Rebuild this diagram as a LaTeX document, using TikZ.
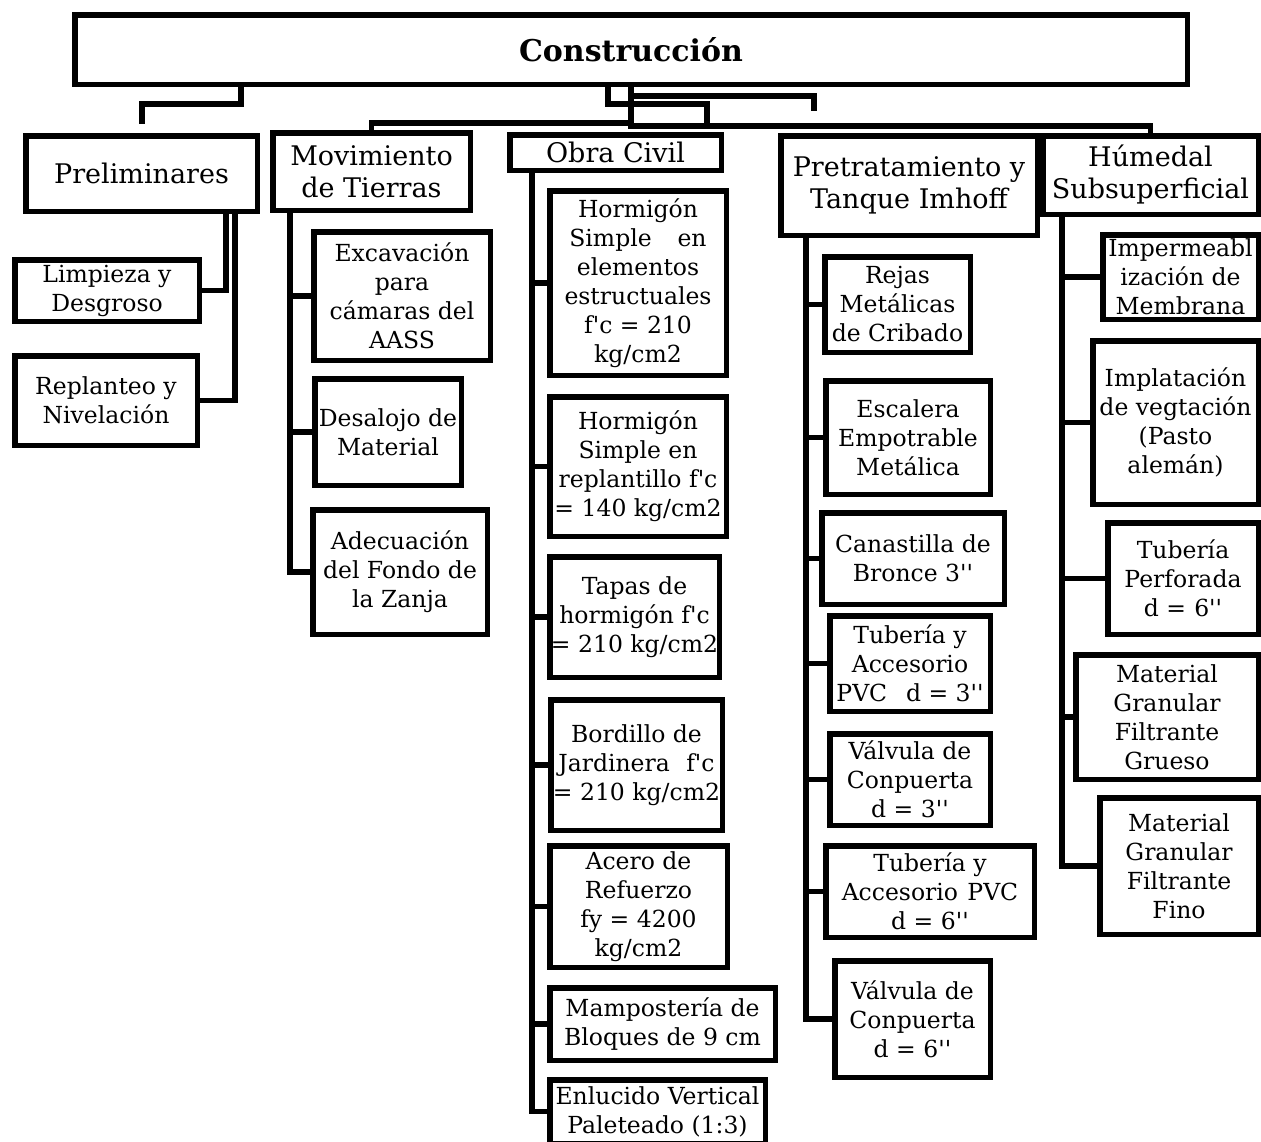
\documentclass[tikz,border=0pt]{standalone}
\usepackage{fontspec}
\setmainfont{DejaVu Serif}
\newcommand\sq{\textquotesingle}
\newcommand\mkbox[7]{\node[#1, minimum width={(#5-#3-5.5)*1pt}, minimum height={(#6-#4-5.5)*1pt}] (#2) at ({(#3+#5)/2},{(#4+#6)/2}) {#7};}
\tikzset{
  bx/.style={draw, line width=5.5pt, inner sep=0pt, outer sep=0pt, align=center, font=\fontsize{23.5}{29}\selectfont},
  hd/.style={bx, font=\fontsize{27}{32}\selectfont},
  tt/.style={bx, font=\fontsize{30}{34}\selectfont\bfseries},
  ln/.style={line width=5.5pt, line cap=rect},
}
\begin{document}
\begin{tikzpicture}[x=1pt,y=-1pt]
\useasboundingbox (0,0) rectangle (1261,1141);
\fill[white] (0,0) rectangle (1261,1141);
\clip (0,0) rectangle (1261,1141);
% title
\mkbox{tt}{title}{72}{12}{1190}{87}{Construcción}
% headers
\mkbox{hd}{prel}{23}{133}{260}{214}{Preliminares}
\mkbox{hd}{mov}{270}{130}{473}{213}{Movimiento\\de Tierras}
\mkbox{hd}{obra}{507}{132}{724}{173}{Obra Civil}
\mkbox{hd}{pret}{778}{133}{1040}{238}{Pretratamiento y\\Tanque Imhoff}
\mkbox{hd}{hum}{1040}{133}{1261}{217}{Húmedal\\Subsuperficial}
% preliminares
\mkbox{bx}{limp}{12}{257}{202}{324}{Limpieza y\\Desgroso}
\mkbox{bx}{repl}{12}{353}{200}{448}{Replanteo y\\Nivelación}
% movimiento
\mkbox{bx}{exc}{311}{229}{493}{363}{Excavación\\para\\cámaras del\\AASS}
\mkbox{bx}{desa}{312}{376}{464}{488}{Desalojo de\\Material}
\mkbox{bx}{adec}{310}{507}{490}{637}{Adecuación\\del Fondo de\\la Zanja}
% obra civil
\mkbox{bx}{hA}{547}{188}{729}{378}{Hormigón\\Simple\hspace{1.1em}en\\elementos\\estructuales\\f\sq c = 210\\kg/cm2}
\mkbox{bx}{hB}{547}{394}{729}{539}{Hormigón\\Simple en\\replantillo f\sq c\\= 140 kg/cm2}
\mkbox{bx}{tapas}{547}{554}{722}{680}{Tapas de\\hormigón f\sq c\\= 210 kg/cm2}
\mkbox{bx}{bord}{548}{697}{725}{833}{Bordillo de\\Jardinera\hspace{0.7em}f\sq c\\= 210 kg/cm2}
\mkbox{bx}{acero}{547}{843}{730}{970}{Acero de\\Refuerzo\\fy = 4200\\kg/cm2}
\mkbox{bx}{mamp}{547}{985}{778}{1063}{Mampostería de\\Bloques de 9 cm}
\mkbox{bx}{enl}{547}{1077}{768}{1146}{Enlucido Vertical\\Paleteado (1:3)}
% pretratamiento
\mkbox{bx}{rejas}{822}{254}{973}{355}{Rejas\\Metálicas\\de Cribado}
\mkbox{bx}{esc}{823}{378}{993}{497}{Escalera\\Empotrable\\Metálica}
\mkbox{bx}{can}{819}{510}{1007}{607}{Canastilla de\\Bronce 3\sq\sq}
\mkbox{bx}{tubA}{827}{613}{993}{714}{Tubería y\\Accesorio\\PVC\hspace{0.8em}d = 3\sq\sq}
\mkbox{bx}{valA}{827}{731}{993}{828}{Válvula de\\Conpuerta\\d = 3\sq\sq}
\mkbox{bx}{tubB}{823}{843}{1037}{940}{Tubería y\\Accesorio\hspace{0.4em}PVC\\d = 6\sq\sq}
\mkbox{bx}{valB}{832}{958}{993}{1080}{Válvula de\\Conpuerta\\d = 6\sq\sq}
% humedal
\mkbox{bx}{imp}{1100}{232}{1261}{322}{Impermeabl\\ización de\\Membrana}
\mkbox{bx}{impl}{1090}{338}{1261}{507}{Implatación\\de vegtación\\(Pasto\\alemán)}
\mkbox{bx}{tubp}{1105}{520}{1261}{637}{Tubería\\Perforada\\d =\hspace{0.35em}6\sq\sq}
\mkbox{bx}{matg}{1073}{652}{1261}{782}{Material\\Granular\\Filtrante\\Grueso}
\mkbox{bx}{matf}{1097}{795}{1261}{937}{Material\\Granular\\Filtrante\\Fino}
% top connectors
\coordinate (c1a) at (241,104); \coordinate (c1e) at (142,121);
\draw[ln] (title.south -| c1a) -- (c1a) -| (c1e);
\coordinate (c2a) at (608,104); \coordinate (c2e) at (707,120);
\draw[ln] (title.south -| c2a) -- (c2a) -| (c2e);
\coordinate (c3a) at (631,96); \coordinate (c3e) at (814,108);
\draw[ln] (title.south -| c3a) -- (c3a) -| (c3e);
\coordinate (hub) at (631,126); \coordinate (hubL) at (631,123);
\draw[ln] (title.south -| hub) -- (hub);
\draw[ln] (hubL) -| (mov.north);
\draw[ln] (hub) -| (hum.north);
% preliminares
\coordinate (px1) at (226,0); \coordinate (px2) at (235,0);
\draw[ln] (prel.south -| px1) |- (limp.east);
\draw[ln] (prel.south -| px2) |- (repl.east);
% movimiento
\coordinate (mx) at (290,0);
\draw[ln] (mov.south -| mx) |- (adec.west);
\draw[ln] (mx |- exc.west) -- (exc.west);
\draw[ln] (mx |- desa.west) -- (desa.west);
% obra civil
\coordinate (ox) at (532,0);
\draw[ln] (obra.south -| ox) |- (enl.west);
\foreach \n in {hA,hB,tapas,bord,acero,mamp} \draw[ln] (ox |- \n.west) -- (\n.west);
% pretratamiento
\coordinate (rx) at (806,0);
\draw[ln] (pret.south -| rx) |- (valB.west);
\foreach \n in {rejas,esc,can,tubA,valA,tubB} \draw[ln] (rx |- \n.west) -- (\n.west);
% humedal
\coordinate (hx) at (1062,0);
\draw[ln] (hum.south -| hx) |- (matf.west);
\foreach \n in {imp,impl,tubp,matg} \draw[ln] (hx |- \n.west) -- (\n.west);
\end{tikzpicture}
\end{document}
